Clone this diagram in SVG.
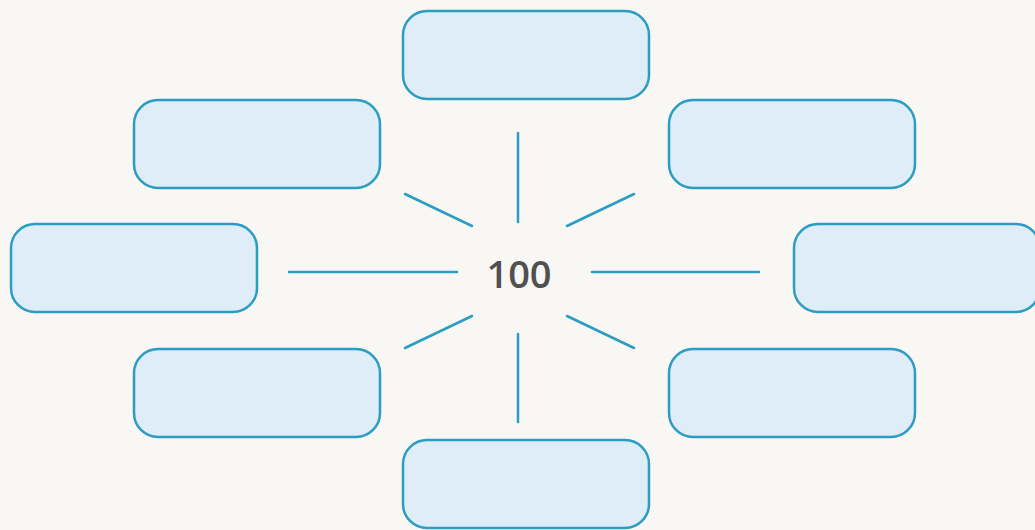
<svg xmlns="http://www.w3.org/2000/svg" width="1035" height="530" viewBox="0 0 1035 530">
<style>
.box{fill:#deedf7;stroke:#2b9cc2;stroke-width:2.5}
.ray{stroke:#2b9cc2;stroke-width:2.5;stroke-linecap:round;fill:none}
.lbl{font-family:"Open Sans","Lato",sans-serif;font-size:38px;font-weight:600;fill:#505050;text-anchor:middle}
</style>
<rect width="1035" height="530" fill="#f8f7f4"/>
<g id="connectors">
<line class="ray" x1="518" y1="133" x2="518" y2="222"/>
<line class="ray" x1="518" y1="334" x2="518" y2="422"/>
<line class="ray" x1="289" y1="272" x2="457" y2="272"/>
<line class="ray" x1="592" y1="272" x2="759" y2="272"/>
<line class="ray" x1="405" y1="194" x2="472" y2="226"/>
<line class="ray" x1="567" y1="226" x2="634" y2="194"/>
<line class="ray" x1="405" y1="348" x2="472" y2="316"/>
<line class="ray" x1="567" y1="316" x2="634" y2="348"/>
</g>
<g id="center"><text class="lbl" x="519" y="288">100</text></g>
<g id="n-top"><rect class="box" x="403" y="11" width="246" height="88" rx="24"/></g>
<g id="n-upper-left"><rect class="box" x="134" y="100" width="246" height="88" rx="24"/></g>
<g id="n-upper-right"><rect class="box" x="669" y="100" width="246" height="88" rx="24"/></g>
<g id="n-left"><rect class="box" x="11" y="224" width="246" height="88" rx="24"/></g>
<g id="n-right"><rect class="box" x="794" y="224" width="246" height="88" rx="24"/></g>
<g id="n-lower-left"><rect class="box" x="134" y="349" width="246" height="88" rx="24"/></g>
<g id="n-lower-right"><rect class="box" x="669" y="349" width="246" height="88" rx="24"/></g>
<g id="n-bottom"><rect class="box" x="403" y="440" width="246" height="88" rx="24"/></g>
</svg>
